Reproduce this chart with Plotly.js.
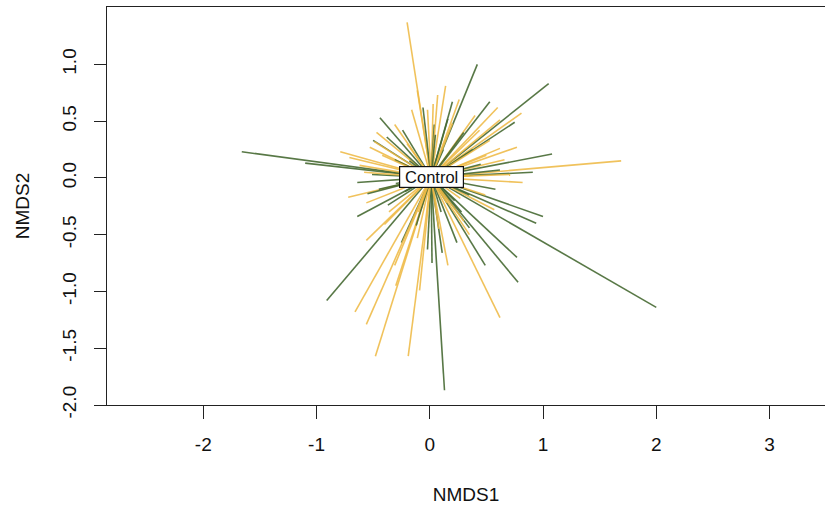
<!DOCTYPE html>
<html>
<head>
<meta charset="utf-8">
<script src="https://cdn.plot.ly/plotly-3.0.1.min.js"></script>
<style>
  html, body { margin: 0; padding: 0; background: #fff; }
  #chart { width: 825px; height: 512px; }
</style>
</head>
<body>
<div id="chart"></div>
<script>
// Spider centroid for the "Control" group (NMDS1, NMDS2)
const centroidX = 0.012;
const centroidY = 0.005;
const groupLabel = "Control";

// Site scores, first set (dark green spokes)
const greenX = [-1.66, -1.10, -0.91, 0.13, 2.00, 1.05, 0.42, 1.08, 0.91, 1.00, 0.94, 0.77, 0.78, 0.49, 0.11, 0.24, 0.02, -0.25, -0.64, -0.37, -0.44, -0.50, -0.24, -0.06, -0.64, 0.20, 0.53, 0.75, 0.38, 0.04, -0.51, -0.02, 0.62, 0.35, -0.31, 0.35, 0.12, -0.18, 0.22, -0.22, 0.10, -0.45, -0.38, 0.30, 0.45, -0.12, 0.05, -0.30, 0.28, 0.58, -0.55, 0.16];
const greenY = [0.23, 0.13, -1.08, -1.87, -1.14, 0.83, 1.00, 0.21, 0.05, -0.34, -0.40, -0.70, -0.92, -0.77, -0.66, -0.57, -0.75, -0.57, -0.34, -0.24, 0.53, 0.33, 0.42, 0.62, -0.04, 0.67, 0.67, 0.49, 0.25, 0.47, 0.03, -0.63, 0.07, -0.15, 0.16, -0.44, 0.25, 0.15, -0.20, -0.12, -0.30, -0.10, 0.36, 0.40, 0.12, -0.42, 0.38, -0.05, -0.30, -0.10, -0.14, 0.52];

// Site scores, second set (golden spokes)
const yellowX = [-0.20, 1.69, 0.82, 0.77, 0.14, 0.03, 0.60, 0.81, 0.62, 0.62, -0.11, -0.47, -0.79, -0.71, -0.72, -0.56, -0.56, -0.66, -0.56, -0.48, -0.19, -0.11, 0.62, 0.57, 0.49, -0.49, -0.53, -0.62, -0.31, -0.16, 0.26, 0.40, 0.66, 0.71, 0.35, 0.16, -0.09, -0.31, -0.40, -0.30, -0.02, 0.07, 0.53, 0.22, 0.35, -0.25, 0.15, -0.10, -0.42, 0.44, 0.30, -0.20, 0.08, -0.36, 0.50, 0.20, -0.58, 0.27];
const yellowY = [1.37, 0.15, -0.04, 0.27, 0.81, 0.65, 0.62, 0.57, 0.51, 0.26, 0.77, 0.40, 0.23, 0.18, -0.17, -0.22, -0.55, -1.18, -1.29, -1.57, -1.57, -0.53, -1.23, -0.28, -0.15, 0.32, 0.27, 0.11, 0.47, 0.60, 0.69, 0.55, 0.16, 0.03, -0.50, -0.77, -0.99, -0.77, -0.41, -0.95, 0.60, 0.73, 0.33, 0.10, 0.02, 0.08, -0.22, -0.30, 0.20, 0.42, -0.38, 0.30, -0.45, -0.30, 0.20, 0.48, 0.05, -0.18];

// Axis ticks
const xTicks = [-2, -1, 0, 1, 2, 3];
const yTicks = [-2.0, -1.5, -1.0, -0.5, 0.0, 0.5, 1.0];

const greenCol = "rgba(70,105,50,0.9)";
const yellowCol = "rgba(238,186,70,0.88)";

function spoke(x, y, color) {
  return {
    type: "scatter", mode: "lines",
    x: [centroidX, x], y: [centroidY, y],
    line: { color: color, width: 1.6 },
    hoverinfo: "skip", showlegend: false
  };
}

// Interleave the two sets so neither colour sits wholly on top
const traces = [];
const n = Math.max(greenX.length, yellowX.length);
for (let i = 0; i < n; i++) {
  if (i < greenX.length) traces.push(spoke(greenX[i], greenY[i], greenCol));
  if (i < yellowX.length) traces.push(spoke(yellowX[i], yellowY[i], yellowCol));
}

const fontFam = "Liberation Sans, Arial, Helvetica, sans-serif";

const layout = {
  width: 825, height: 512,
  margin: { l: 107, r: 0, t: 7, b: 107 },
  paper_bgcolor: "#fff", plot_bgcolor: "#fff",
  font: { family: fontFam, size: 19, color: "#111" },
  xaxis: {
    range: [-2.85, 3.49],
    tickvals: xTicks, ticktext: xTicks.map(String),
    ticks: "outside", ticklen: 13, tickwidth: 1, tickcolor: "#222",
    ticklabelstandoff: 9,
    showline: true, linecolor: "#222", linewidth: 1.2, mirror: true,
    showgrid: false, zeroline: false,
    title: { text: "NMDS1", font: { size: 19 }, standoff: 33 }
  },
  yaxis: {
    range: [-2.0, 1.505],
    tickvals: yTicks, ticktext: yTicks.map(v => v.toFixed(1)),
    tickangle: -90,
    ticks: "outside", ticklen: 12, tickwidth: 1, tickcolor: "#222",
    ticklabelstandoff: 10,
    showline: true, linecolor: "#222", linewidth: 1.2,
    showgrid: false, zeroline: false,
    title: { text: "NMDS2", font: { size: 19 }, standoff: 24 }
  },
  annotations: [{
    x: centroidX, y: centroidY, xref: "x", yref: "y",
    text: groupLabel, showarrow: false,
    font: { family: fontFam, size: 16.5, color: "#111" },
    bgcolor: "#fff", bordercolor: "#111", borderwidth: 1.2, borderpad: 1,
    width: 61, height: 18
  }]
};

Plotly.newPlot("chart", traces, layout, { staticPlot: true, displayModeBar: false });
</script>
</body>
</html>
